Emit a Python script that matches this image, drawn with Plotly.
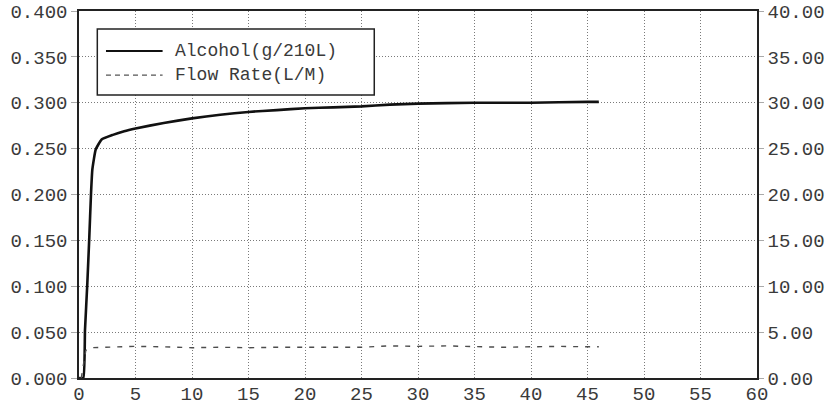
import plotly.graph_objects as go

# alcohol concentration (g/210L) vs time (s)
alc_t = [0.0, 0.38, 0.53, 0.74, 0.91, 1.06, 1.18, 1.48, 2.0, 3.0, 4.0, 5.0, 7.5, 10.0,
         12.5, 15.0, 17.5, 20.0, 22.5, 25.0, 27.5, 30.0, 35.0, 40.0, 45.0, 46.0]
alc_v = [0.0, 0.0, 0.052, 0.104, 0.153, 0.200, 0.227, 0.249, 0.260, 0.265, 0.269, 0.272,
         0.278, 0.283, 0.287, 0.290, 0.292, 0.294, 0.295, 0.296, 0.298, 0.299, 0.300,
         0.300, 0.301, 0.301]

# flow rate (L/M) vs time (s)
flow_t = [0.2, 0.4, 0.6, 1.1, 2.5, 5.0, 7.5, 10.0, 12.5, 15.0, 17.5, 20.0, 22.5, 25.0,
          27.5, 30.0, 32.5, 35.0, 37.5, 40.0, 42.5, 45.0, 46.0]
flow_v = [0.0, 1.5, 3.0, 3.3, 3.35, 3.45, 3.4, 3.3, 3.35, 3.3, 3.35, 3.35, 3.3, 3.35,
          3.5, 3.45, 3.5, 3.4, 3.35, 3.4, 3.45, 3.4, 3.4]

legend_names = ["Alcohol(g/210L)", "Flow Rate(L/M)"]

FONT = "Liberation Mono, Courier New, monospace"
GRID = "#7a7a7a"
GRID_DASH = "1px,2px"

fig = go.Figure()
fig.add_trace(go.Scatter(x=alc_t, y=alc_v, mode="lines", name=legend_names[0],
                         line=dict(color="#111111", width=2.6, shape="spline", smoothing=0.4)))
fig.add_trace(go.Scatter(x=flow_t, y=flow_v, mode="lines", name=legend_names[1], yaxis="y2",
                         line=dict(color="#4d4d4d", width=1.4, dash="5px,7px")))

# hand drawn legend box (the plot uses long sample lines)
fig.add_shape(type="rect", xref="paper", yref="paper", x0=0.0270, x1=0.4355, y0=0.771, y1=0.951,
              line=dict(color="#222222", width=1.5), fillcolor="white", layer="above")
for i, (nm, dash, col, w) in enumerate(zip(legend_names, ["solid", "5px,4px"],
                                           ["#111111", "#555555"], [2.2, 1.3])):
    yy = 0.891 - i * 0.0655
    fig.add_shape(type="line", xref="paper", yref="paper", x0=0.0398, x1=0.1233, y0=yy, y1=yy,
                  line=dict(color=col, width=w, dash=dash), layer="above")
    fig.add_annotation(xref="paper", yref="paper", x=0.1390, y=yy, text=nm, showarrow=False,
                       xanchor="left", yanchor="middle", font=dict(family=FONT, size=18, color="#3a3a3a"))

fig.update_layout(
    width=839, height=407,
    margin=dict(l=79, r=82, t=11, b=29),
    paper_bgcolor="white", plot_bgcolor="white",
    showlegend=False,
    font=dict(family=FONT, size=19, color="#3a3a3a"),
    xaxis=dict(range=[0, 60], dtick=5, tick0=0, showgrid=True, gridcolor=GRID, griddash=GRID_DASH,
               gridwidth=1, showline=True, linecolor="#222222", linewidth=2, mirror=True,
               zeroline=False, ticks="", ticklabelstandoff=-3, automargin=False),
    yaxis=dict(range=[0, 0.4], dtick=0.05, tickformat=".3f", showgrid=True, gridcolor=GRID,
               griddash=GRID_DASH, gridwidth=1, showline=True, linecolor="#222222", linewidth=1.5,
               mirror=True, zeroline=False, ticks="outside", ticklen=6, tickcolor="#aaaaaa",
               tickwidth=1, automargin=False),
    yaxis2=dict(range=[0, 40], dtick=5, tickformat=".2f", overlaying="y", side="right",
                showgrid=False, showline=True, linecolor="#222222", linewidth=1.5,
                zeroline=False, ticks="outside", ticklen=5, tickcolor="#aaaaaa", tickwidth=1,
                automargin=False),
)

# drop the default 8px body margin so the figure fills the window exactly
fig.write_html("out.html", config={"displayModeBar": False},
               post_script="document.body.style.margin='0';")
